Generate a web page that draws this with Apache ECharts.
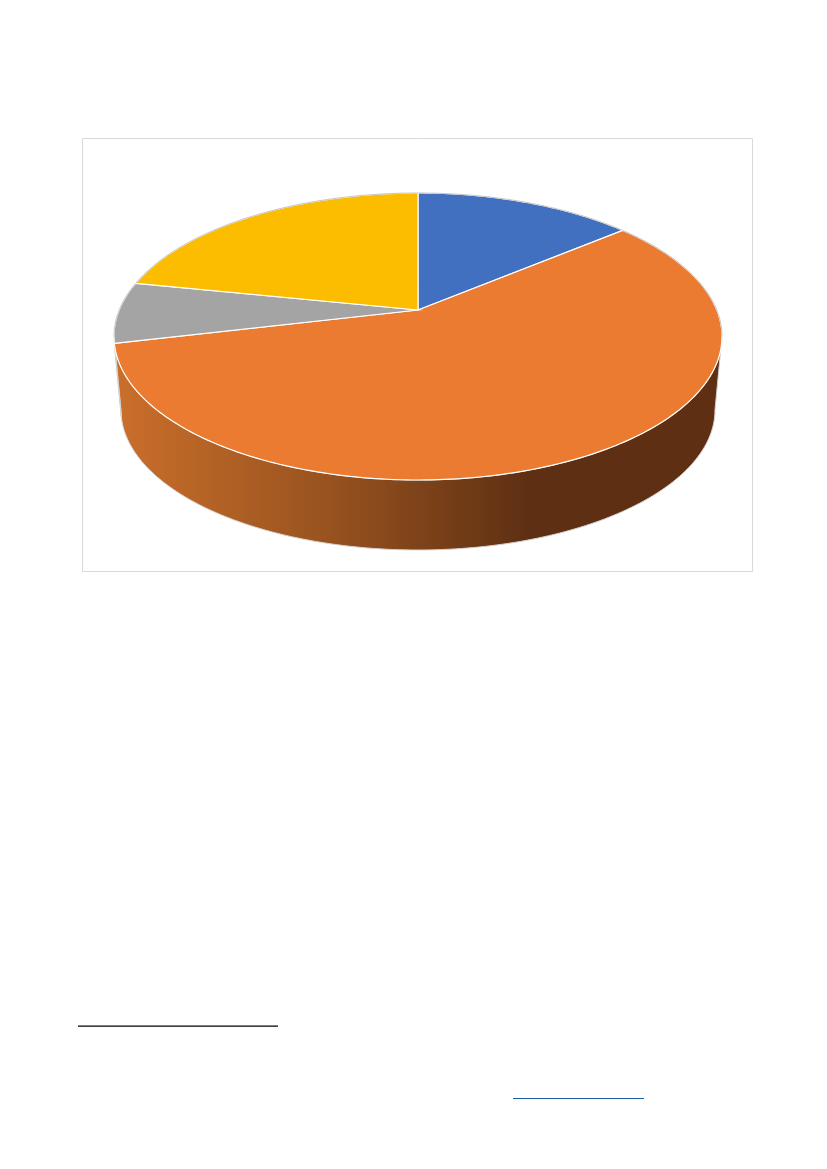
<!DOCTYPE html>
<html>
<head>
<meta charset="utf-8">
<style>html,body{margin:0;padding:0;background:#fff;overflow:hidden}#c{width:827px;height:1169px}</style>
<script src="https://cdn.jsdelivr.net/npm/echarts@6/dist/echarts.min.js"></script>
</head>
<body>
<div id="c"></div>
<script>
// Data: shares (percent), clockwise from 12 o'clock
const categories = ['A', 'B', 'C', 'D'];
const shares = [13.9, 57.4, 6.9, 21.8];
const sliceColors = ['#4170C0', '#EA7B30', '#A4A4A4', '#FCBD00'];

// Geometry of the tilted disc, in axis units (the axes span the page)
const topDisc = { apexY: 310, farY: 193, nearY: 480, rx: 304, cx: 418 };
const baseDisc = { apexY: 384, farY: 270, nearY: 550, rx: 297, cx: 418 };

function prepare(d) {
  const far = d.apexY - d.farY, near = d.nearY - d.apexY;
  d.c = (far - near) / (far + near);
  d.b = far * (1 - d.c);
  d.d = d.rx * Math.sqrt(1 - d.c * d.c);
  return d;
}
prepare(topDisc); prepare(baseDisc);

function project(d, deg) {
  const a = deg * Math.PI / 180, u = Math.sin(a), v = -Math.cos(a);
  const w = 1 + d.c * v;
  return [d.cx + d.d * u / w, d.apexY + d.b * v / w];
}
const total = shares.reduce((s, x) => s + x, 0);
function range(i) {
  let s = 0;
  for (let k = 0; k < i; k++) s += shares[k];
  return [s / total * 360, (s + shares[i]) / total * 360];
}
function arc(d, a0, a1, api) {
  const n = Math.max(2, Math.ceil(Math.abs(a1 - a0)));
  const out = [];
  for (let i = 0; i <= n; i++) out.push(api.coord(project(d, a0 + (a1 - a0) * i / n)));
  return out;
}
// Angles between which the side wall faces the viewer
const sil = Math.atan2(-topDisc.c, Math.sqrt(1 - topDisc.c * topDisc.c)) * 180 / Math.PI;
const wallFrom = 90 + sil, wallTo = 270 - sil;

function renderWall(params, api) {
  const [a0, a1] = range(params.dataIndex);
  const s = Math.max(a0, wallFrom), e = Math.min(a1, wallTo);
  if (e <= s) return { type: 'group', children: [] };
  const pts = arc(baseDisc, s, e, api).concat(arc(topDisc, e, s, api));
  return {
    type: 'polygon',
    shape: { points: pts },
    style: {
      fill: new echarts.graphic.LinearGradient(0, 0, 1, 0, [
        { offset: 0, color: '#CB6F2B' },
        { offset: 0.35, color: '#98531F' },
        { offset: 0.685, color: '#5E2F13' },
        { offset: 1, color: '#5E2F13' }
      ]),
      stroke: '#D6D3D0', lineWidth: 1
    }
  };
}
function renderTop(params, api) {
  const [a0, a1] = range(params.dataIndex);
  const apex = api.coord([topDisc.cx, topDisc.apexY]);
  const rim = arc(topDisc, a0, a1, api);
  const children = [{
    type: 'polygon',
    shape: { points: [apex].concat(rim) },
    style: { fill: api.visual('color'), stroke: '#FFFFFF', lineWidth: 1.2 }
  }];
  // grey hairline on the part of the rim not resting on the side wall
  const parts = [[a0, Math.min(a1, wallFrom)], [Math.max(a0, wallTo), a1]];
  parts.forEach(function (p) {
    if (p[1] > p[0]) {
      children.push({
        type: 'polyline',
        shape: { points: arc(topDisc, p[0], p[1], api) },
        style: { fill: null, stroke: '#C4C4C4', lineWidth: 1 }
      });
    }
  });
  return { type: 'group', children: children };
}

const seriesData = shares.map((v, i) => ({
  name: categories[i], value: [v], itemStyle: { color: sliceColors[i] }
}));

const chart = echarts.init(document.getElementById('c'), null, { renderer: 'canvas' });
chart.setOption({
  animation: false,
  backgroundColor: '#FFFFFF',
  tooltip: { show: false },
  grid: { left: 0, right: 0, top: 0, bottom: 0, containLabel: false },
  xAxis: { type: 'value', min: 0, max: 827, show: false },
  yAxis: { type: 'value', min: 0, max: 1169, inverse: true, show: false },
  graphic: [
    { type: 'rect', z: -1, shape: { x: 82.5, y: 138.5, width: 670, height: 433 },
      style: { fill: '#FFFFFF', stroke: '#D9D9D9', lineWidth: 1 } },
    { type: 'rect', shape: { x: 78, y: 1025.5, width: 200, height: 1.2 },
      style: { fill: '#000000' } },
    { type: 'rect', shape: { x: 513, y: 1098, width: 131, height: 1 },
      style: { fill: '#1F5FA8' } }
  ],
  series: [
    { type: 'custom', coordinateSystem: 'cartesian2d', z: 2, silent: true, clip: false,
      renderItem: renderWall, data: seriesData, encode: { x: [], y: [] } },
    { type: 'custom', coordinateSystem: 'cartesian2d', z: 3, silent: true, clip: false,
      renderItem: renderTop, data: seriesData, encode: { x: [], y: [] } }
  ]
});
</script>
</body>
</html>
